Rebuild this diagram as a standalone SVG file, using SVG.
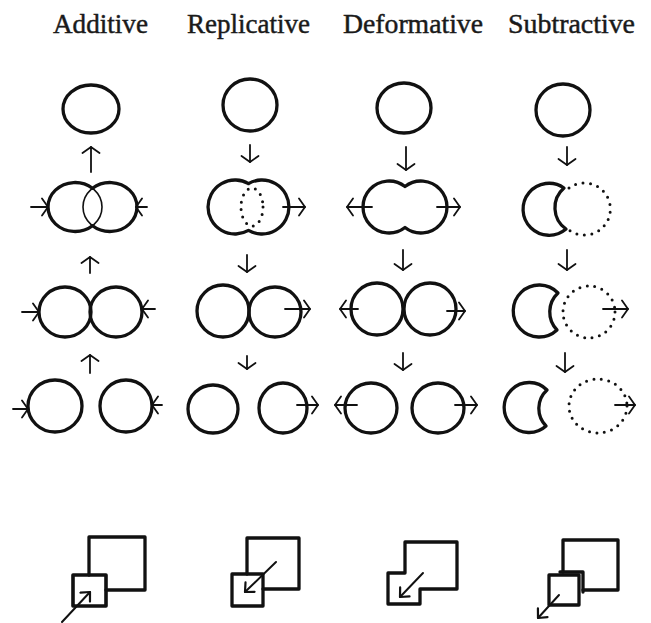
<svg xmlns="http://www.w3.org/2000/svg" width="651" height="623" viewBox="0 0 651 623">
<style>
.t{font-family:"Liberation Serif","DejaVu Serif",serif;font-size:27px;fill:#1a1a1a;stroke:#1a1a1a;stroke-width:0.45;text-anchor:middle}
.s{fill:none;stroke:#111;stroke-width:3.3;stroke-linecap:round;stroke-linejoin:round}
.thin{fill:none;stroke:#111;stroke-width:1.6}
.dot{fill:none;stroke:#111;stroke-width:3;stroke-linecap:round;stroke-dasharray:0 7.5}
.a{fill:none;stroke:#111;stroke-width:1.8;stroke-linecap:round;marker-end:url(#h)}
.b{fill:none;stroke:#111;stroke-width:2;stroke-linecap:round;marker-end:url(#h2)}
</style>
<defs>
<marker id="h" viewBox="0 0 8 20" refX="7" refY="10" markerWidth="8" markerHeight="20" markerUnits="userSpaceOnUse" orient="auto">
<path d="M1,1.5 L7,10 L1,18.5" fill="none" stroke="#111" stroke-width="1.8" stroke-linecap="round" stroke-linejoin="round"/>
</marker>
<marker id="h2" viewBox="0 0 10 16" refX="8.5" refY="8" markerWidth="10" markerHeight="16" markerUnits="userSpaceOnUse" orient="auto">
<path d="M1.5,1.5 L8.5,8 L1.5,14.5" fill="none" stroke="#111" stroke-width="2.2" stroke-linecap="round" stroke-linejoin="round"/>
</marker>
</defs>
<rect width="651" height="623" fill="#fff"/>
<g id="titles">
<text class="t" x="100.5" y="33" textLength="95" lengthAdjust="spacingAndGlyphs">Additive</text>
<text class="t" x="248.5" y="33" textLength="123" lengthAdjust="spacingAndGlyphs">Replicative</text>
<text class="t" x="413" y="33" textLength="140" lengthAdjust="spacingAndGlyphs">Deformative</text>
<text class="t" x="571.5" y="33" textLength="127" lengthAdjust="spacingAndGlyphs">Subtractive</text>
</g>
<g id="additive">
<g id="add1"><ellipse class="s" cx="91" cy="109" rx="28" ry="24"/></g>
<g id="add2">
<ellipse class="thin" cx="75" cy="207" rx="27" ry="24.5"/>
<ellipse class="thin" cx="110" cy="207" rx="27" ry="24.5"/>
<path class="s" d="M92.5,188.3 A27,24.5 0 1,0 92.5,225.7 A27,24.5 0 1,0 92.5,188.3"/>
</g>
<g id="add3"><ellipse class="s" cx="65" cy="312" rx="26" ry="25"/><ellipse class="s" cx="116" cy="312" rx="26" ry="25"/></g>
<g id="add4"><ellipse class="s" cx="55" cy="406" rx="27" ry="26"/><ellipse class="s" cx="126" cy="406" rx="26" ry="26"/></g>
<g id="add5">
<path class="s" d="M89,575 L89,537 L145,537 L145,590 L106,590"/>
<rect class="s" x="73" y="575" width="33" height="31" style="stroke-width:3.6"/>
</g>
</g>
<g id="replicative">
<g id="rep1"><ellipse class="s" cx="250" cy="105" rx="27" ry="26"/></g>
<g id="rep2">
<path class="s" d="M248.5,183.6 A27,27 0 1,0 248.5,230.4 A27,27 0 1,0 248.5,183.6"/>
<ellipse class="dot" cx="252" cy="207" rx="11" ry="19"/>
</g>
<g id="rep3"><ellipse class="s" cx="223" cy="311" rx="26" ry="26"/><ellipse class="s" cx="275" cy="312" rx="26" ry="25"/></g>
<g id="rep4"><ellipse class="s" cx="213" cy="409" rx="25" ry="24"/><ellipse class="s" cx="283" cy="408" rx="24" ry="25"/></g>
<g id="rep5">
<path class="s" d="M247,574 L247,538 L299,538 L299,589 L263,589"/>
<rect class="s" x="232" y="574" width="31" height="32"/>
</g>
</g>
<g id="deformative">
<g id="def1"><ellipse class="s" cx="404" cy="108" rx="27" ry="25"/></g>
<g id="def2"><path class="s" d="M405,186.5 A26,26 0 1,0 405,227.5 A26,26 0 1,0 405,186.5"/></g>
<g id="def3"><ellipse class="s" cx="377" cy="309" rx="26" ry="26"/><ellipse class="s" cx="430" cy="309" rx="26" ry="26"/></g>
<g id="def4"><ellipse class="s" cx="371" cy="408" rx="26" ry="25"/><ellipse class="s" cx="438" cy="408" rx="26" ry="25"/></g>
<g id="def5"><path class="s" d="M405,542 L457,542 L457,589 L420,589 L420,604 L388,604 L388,573 L405,573 Z"/></g>
</g>
<g id="subtractive">
<g id="sub1"><ellipse class="s" cx="563" cy="110" rx="27" ry="26"/></g>
<g id="sub2">
<path class="s" d="M564,188 A26,26 0 1,0 566,229 A26,26 0 0,1 564,188 Z"/>
<path class="dot" d="M569,188 A26,26 0 1,1 569,230"/>
</g>
<g id="sub3">
<path class="s" d="M558,293 A26,26 0 1,0 557,330 A26,26 0 0,1 558,293 Z"/>
<circle class="dot" cx="589" cy="312" r="26"/>
</g>
<g id="sub4">
<path class="s" d="M547,390 A25,25 0 1,0 546,426 A25,25 0 0,1 547,390 Z"/>
<ellipse class="dot" cx="598" cy="406" rx="29" ry="27"/>
</g>
<g id="sub5">
<path class="s" d="M563,572 L563,540 L618,540 L618,590 L583,590"/>
<path class="s" d="M560,572 L583,572 L583,592"/>
<rect class="s" x="549" y="575" width="30" height="30"/>
</g>
</g>
<g id="connectors">
<path class="a" d="M91,172 L91,147"/>
<path class="a" d="M31,207 L48,207"/>
<path class="a" d="M147,207 L136,207"/>
<path class="a" d="M90,273 L90,257"/>
<path class="a" d="M22,312 L39,312"/>
<path class="a" d="M155,309 L142,309"/>
<path class="a" d="M90,373 L90,355"/>
<path class="a" d="M13,409 L28,409"/>
<path class="a" d="M162,405 L152,405"/>
<path class="a" d="M250,145 L250,162"/>
<path class="a" d="M283,207 L305,207"/>
<path class="a" d="M247,255 L247,272"/>
<path class="a" d="M285,309 L310,309"/>
<path class="a" d="M247,356 L247,369"/>
<path class="a" d="M297,405 L318,405"/>
<path class="a" d="M406,147 L406,170"/>
<path class="a" d="M372,207 L347,207"/>
<path class="a" d="M437,207 L460,207"/>
<path class="a" d="M403,250 L403,270"/>
<path class="a" d="M358,309 L340,309"/>
<path class="a" d="M447,311 L465,311"/>
<path class="a" d="M403,353 L403,370"/>
<path class="a" d="M357,405 L335,405"/>
<path class="a" d="M455,405 L477,405"/>
<path class="a" d="M567,147 L567,165"/>
<path class="a" d="M567,250 L567,270"/>
<path class="a" d="M603,309 L628,309"/>
<path class="a" d="M565,353 L565,372"/>
<path class="a" d="M615,405 L635,405"/>
<path class="b" d="M62,622 L90,592"/>
<path class="b" d="M276,562 L245,592"/>
<path class="b" d="M423,573 L400,597"/>
<path class="b" d="M559,595 L538,618"/>
</g>
</svg>
